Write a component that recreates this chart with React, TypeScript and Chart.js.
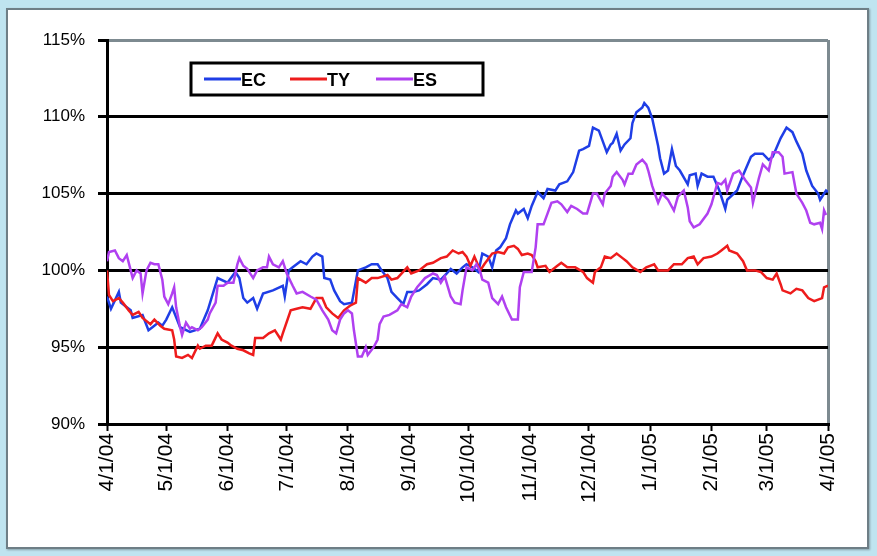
import React, { useEffect, useRef } from "react";
import { Chart, registerables } from "chart.js";

Chart.register(...registerables);

// x = calendar days since 4/1/04, y = percent
const MONTH_DAYS = [0, 30, 61, 91, 122, 153, 183, 214, 244, 275, 306, 334, 365];
const MONTH_LABELS = ["4/1/04", "5/1/04", "6/1/04", "7/1/04", "8/1/04", "9/1/04", "10/1/04", "11/1/04", "12/1/04", "1/1/05", "2/1/05", "3/1/05", "4/1/05"];
const Y_TICKS = [90, 95, 100, 105, 110, 115];

const EC: [number, number][] = [
  [0, 98.3], [2, 97.5], [6, 98.6], [7, 97.9], [12, 97.4], [13, 96.9], [18, 97.1], [21, 96.1], [23, 96.3], [26, 96.6],
  [28, 96.4], [30, 96.8], [33, 97.6], [37, 96.3], [42, 96.0], [47, 96.2], [51, 97.4], [56, 99.5], [61, 99.2], [65, 99.9],
  [67, 99.5], [69, 98.2], [71, 97.9], [74, 98.2], [76, 97.5], [79, 98.5], [84, 98.7], [89, 99.0], [90, 98.3], [92, 100.0],
  [94, 100.2], [98, 100.6], [101, 100.4], [104, 100.9], [106, 101.1], [109, 100.9], [110, 99.5], [113, 99.4], [115, 98.7], [118, 98.0],
  [120, 97.8], [124, 97.9], [127, 100.0], [131, 100.2], [134, 100.4], [137, 100.4], [139, 100.0], [142, 99.5], [144, 98.6], [147, 98.2],
  [150, 97.8], [152, 98.6], [155, 98.6], [158, 98.7], [162, 99.1], [165, 99.5], [169, 99.4], [172, 99.8], [174, 100.1], [177, 99.8],
  [180, 100.2], [182, 100.4], [185, 100.2], [188, 99.9], [190, 101.1], [193, 100.9], [195, 100.2], [197, 101.3], [199, 101.5], [202, 102.1],
  [204, 103.0], [207, 103.9], [208, 103.7], [211, 104.0], [213, 103.4], [215, 104.2], [218, 105.1], [221, 104.7], [223, 105.3], [227, 105.2],
  [229, 105.6], [233, 105.8], [236, 106.4], [239, 107.8], [241, 107.9], [244, 108.1], [246, 109.3], [249, 109.1], [251, 108.4], [253, 107.7],
  [255, 108.2], [256, 108.3], [258, 108.9], [260, 107.8], [262, 108.2], [265, 108.6], [266, 109.6], [268, 110.3], [271, 110.6], [272, 110.9],
  [274, 110.6], [276, 109.9], [279, 108.1], [280, 107.3], [282, 106.3], [284, 106.5], [286, 107.9], [288, 106.8], [290, 106.5], [294, 105.6],
  [295, 106.2], [298, 106.3], [299, 105.5], [301, 106.3], [304, 106.1], [307, 106.1], [310, 105.2], [313, 104.0], [314, 104.6], [319, 105.2],
  [322, 106.2], [326, 107.4], [328, 107.6], [332, 107.6], [335, 107.2], [337, 107.4], [341, 108.6], [344, 109.3], [347, 109.0], [349, 108.4],
  [352, 107.6], [354, 106.5], [357, 105.5], [360, 105.0], [361, 104.6], [364, 105.2], [365, 105.1],
];

const TY: [number, number][] = [
  [0, 100.0], [1, 98.4], [3, 98.0], [6, 98.2], [8, 97.9], [11, 97.4], [13, 97.1], [16, 97.3], [18, 96.9], [22, 96.5],
  [24, 96.8], [27, 96.4], [29, 96.2], [33, 96.1], [34, 95.5], [35, 94.4], [38, 94.3], [41, 94.5], [43, 94.3], [46, 95.1],
  [47, 94.9], [50, 95.1], [53, 95.1], [56, 95.9], [58, 95.5], [61, 95.3], [63, 95.1], [66, 94.9], [69, 94.8], [72, 94.6],
  [74, 94.5], [75, 95.6], [79, 95.6], [82, 95.9], [85, 96.1], [88, 95.5], [89, 95.9], [93, 97.4], [96, 97.5], [99, 97.6],
  [103, 97.5], [106, 98.2], [109, 98.2], [111, 97.6], [114, 97.2], [117, 96.9], [120, 97.4], [123, 97.7], [126, 97.9], [127, 99.5],
  [131, 99.2], [134, 99.5], [137, 99.5], [142, 99.7], [144, 99.4], [147, 99.5], [152, 100.2], [154, 99.8], [158, 100.0], [162, 100.4],
  [165, 100.5], [169, 100.8], [172, 100.9], [175, 101.3], [178, 101.1], [180, 101.2], [182, 100.9], [184, 100.3], [186, 100.9], [189, 100.0],
  [191, 100.4], [195, 101.1], [198, 101.2], [201, 101.1], [203, 101.5], [206, 101.6], [208, 101.4], [210, 101.0], [213, 101.1], [215, 101.0],
  [217, 100.6], [218, 100.2], [222, 100.3], [224, 99.9], [228, 100.3], [230, 100.5], [233, 100.2], [237, 100.2], [241, 99.9], [243, 99.5],
  [246, 99.2], [247, 99.9], [250, 100.2], [252, 100.9], [255, 100.8], [258, 101.1], [261, 100.8], [263, 100.6], [266, 100.2], [270, 99.9],
  [273, 100.2], [277, 100.4], [279, 100.0], [284, 100.0], [287, 100.4], [291, 100.4], [294, 100.8], [297, 100.9], [299, 100.4], [302, 100.8],
  [306, 100.9], [309, 101.1], [311, 101.3], [314, 101.6], [315, 101.3], [319, 101.1], [322, 100.6], [324, 100.0], [328, 100.0], [331, 99.9],
  [334, 99.5], [337, 99.4], [339, 99.8], [341, 99.1], [342, 98.7], [346, 98.5], [349, 98.8], [352, 98.7], [355, 98.2], [358, 98.0],
  [362, 98.2], [363, 98.9], [365, 99.0],
];

const ES: [number, number][] = [
  [0, 100.6], [1, 101.2], [4, 101.3], [6, 100.8], [8, 100.6], [10, 101.0], [12, 100.0], [13, 99.5], [15, 100.0], [17, 99.8],
  [18, 98.5], [20, 100.0], [22, 100.5], [24, 100.4], [26, 100.4], [28, 99.4], [29, 98.3], [31, 97.8], [33, 98.5], [34, 98.9],
  [35, 97.6], [37, 96.3], [38, 95.8], [40, 96.6], [42, 96.2], [43, 96.3], [46, 96.1], [48, 96.3], [51, 96.8], [52, 97.2],
  [55, 97.9], [56, 99.0], [59, 99.0], [61, 99.2], [64, 99.2], [66, 100.4], [67, 100.8], [69, 100.3], [71, 100.1], [74, 99.5],
  [76, 100.0], [79, 100.2], [81, 100.2], [82, 100.9], [84, 100.4], [87, 100.2], [89, 100.6], [91, 99.8], [94, 99.0], [96, 98.5],
  [99, 98.6], [103, 98.3], [106, 98.1], [109, 97.4], [112, 96.8], [114, 96.1], [116, 95.9], [118, 96.8], [120, 97.2], [122, 97.4],
  [124, 97.2], [125, 96.1], [127, 94.4], [129, 94.4], [131, 95.0], [132, 94.5], [135, 95.0], [137, 95.5], [138, 96.5], [140, 97.0],
  [143, 97.1], [147, 97.4], [149, 97.8], [152, 97.6], [154, 98.3], [157, 98.9], [161, 99.5], [165, 99.8], [167, 99.7], [169, 99.2],
  [171, 99.6], [174, 98.3], [176, 97.9], [179, 97.8], [180, 98.7], [182, 100.2], [185, 100.0], [187, 100.4], [189, 99.9], [190, 99.4],
  [193, 99.2], [195, 98.2], [198, 97.8], [200, 98.3], [202, 97.6], [205, 96.8], [208, 96.8], [209, 98.9], [211, 99.9], [215, 99.9],
  [217, 101.5], [218, 103.0], [221, 103.0], [223, 103.7], [225, 104.4], [228, 104.5], [230, 104.3], [233, 103.8], [235, 104.2], [238, 104.0],
  [241, 103.7], [243, 103.7], [246, 105.0], [248, 105.0], [251, 104.3], [252, 105.0], [255, 105.5], [256, 106.1], [258, 106.4], [261, 105.9],
  [262, 105.6], [264, 106.3], [266, 106.3], [268, 106.9], [271, 107.2], [273, 106.9], [274, 106.5], [276, 105.5], [279, 104.4], [281, 105.0],
  [284, 104.6], [287, 103.9], [289, 104.8], [292, 105.2], [294, 104.1], [295, 103.2], [297, 102.8], [300, 103.0], [304, 103.7], [306, 104.3],
  [309, 105.7], [311, 105.6], [313, 105.9], [314, 105.2], [317, 106.3], [320, 106.5], [323, 105.9], [326, 105.4], [327, 104.4], [330, 106.0],
  [332, 106.9], [335, 106.5], [337, 107.7], [340, 107.7], [342, 107.4], [343, 106.3], [347, 106.4], [349, 105.0], [352, 104.4], [354, 103.9],
  [356, 103.1], [358, 103.0], [361, 103.1], [362, 102.7], [363, 103.9], [364, 103.6],
];

const SERIES_NAMES = ["EC", "TY", "ES"];
const SERIES_COLORS = ["#1f3ee6", "#ee1c1c", "#b040f0"];

const legendPlugin = {
  id: "boxLegend",
  afterDraw(chart: any) {
    const ctx = chart.ctx;
    const area = chart.chartArea;
    const bx = area.left + 84;
    const by = area.top + 23;
    const bw = 292;
    const bh = 32;
    ctx.save();
    ctx.fillStyle = "#ffffff";
    ctx.fillRect(bx, by, bw, bh);
    ctx.lineWidth = 3;
    ctx.strokeStyle = "#000000";
    ctx.strokeRect(bx, by, bw, bh);
    ctx.font = "bold 18px 'Liberation Sans', Arial, sans-serif";
    ctx.textBaseline = "middle";
    ctx.textAlign = "left";
    const cy = by + bh / 2 + 1;
    for (let i = 0; i < SERIES_NAMES.length; i++) {
      const x0 = bx + 13 + i * 86;
      ctx.strokeStyle = SERIES_COLORS[i];
      ctx.lineWidth = 3;
      ctx.beginPath();
      ctx.moveTo(x0, cy - 1);
      ctx.lineTo(x0 + 37, cy - 1);
      ctx.stroke();
      ctx.fillStyle = "#000000";
      ctx.fillText(SERIES_NAMES[i], x0 + 37, cy + 1);
    }
    ctx.restore();
  },
};

function toPoints(arr: [number, number][]) {
  return arr.map(([x, y]) => ({ x, y }));
}

export default function App() {
  const canvasRef = useRef<HTMLCanvasElement | null>(null);

  useEffect(() => {
    const canvas = canvasRef.current;
    if (!canvas) return;
    const data = [EC, TY, ES];
    const chart = new Chart(canvas, {
      type: "line",
      data: {
        datasets: data.map((arr, i) => ({
          label: SERIES_NAMES[i],
          data: toPoints(arr),
          borderColor: SERIES_COLORS[i],
          backgroundColor: SERIES_COLORS[i],
          borderWidth: 2.5,
          pointRadius: 0,
          tension: 0,
          fill: false,
          order: 2 - i,
        })),
      },
      options: {
        responsive: false,
        animation: false,
        events: [],
        layout: { padding: { top: 40, right: 49, left: 0, bottom: 0 } },
        plugins: { legend: { display: false }, tooltip: { enabled: false }, title: { display: false } },
        scales: {
          x: {
            type: "linear",
            min: 0,
            max: 365,
            afterBuildTicks: (scale: any) => {
              scale.ticks = MONTH_DAYS.map((v) => ({ value: v }));
            },
            afterFit: (scale: any) => {
              scale.height = 132;
            },
            ticks: {
              autoSkip: false,
              maxRotation: 90,
              minRotation: 90,
              padding: 2,
              color: "#000000",
              font: { family: "'Liberation Sans', Arial, sans-serif", size: 21 },
              callback: (v: any) => {
                const idx = MONTH_DAYS.indexOf(Number(v));
                return idx >= 0 ? MONTH_LABELS[idx] : "";
              },
            },
            grid: {
              drawOnChartArea: true,
              color: (c: any) => (c.index === MONTH_DAYS.length - 1 ? "#7d8a90" : "rgba(0,0,0,0)"),
              lineWidth: 3,
              tickColor: "#000000",
              tickWidth: 2,
              tickLength: 7,
            },
            border: { color: "#000000", width: 3 },
          },
          y: {
            min: 90,
            max: 115,
            afterBuildTicks: (scale: any) => {
              scale.ticks = Y_TICKS.map((v) => ({ value: v }));
            },
            afterFit: (scale: any) => {
              scale.width = 107;
            },
            ticks: {
              padding: 13,
              color: "#000000",
              font: { family: "'Liberation Sans', Arial, sans-serif", size: 17 },
              callback: (v: any) => `${v}%`,
            },
            grid: {
              color: (c: any) => (c.tick && c.tick.value === 115 ? "#7d8a90" : "#000000"),
              lineWidth: 3,
              tickColor: "#000000",
              tickWidth: 3,
              tickLength: 9,
            },
            border: { color: "#000000", width: 3 },
          },
        },
      },
      plugins: [legendPlugin],
    });
    return () => chart.destroy();
  }, []);

  return (
    <div style={{ position: "fixed", left: 0, top: 0, width: 877, height: 556, background: "#bfe4f0", overflow: "hidden" }}>
      <div
        style={{
          position: "absolute",
          left: 6,
          top: 8,
          width: 859,
          height: 537,
          background: "#ffffff",
          border: "2px solid #6e7e86",
          boxShadow: "1px 1px 2px rgba(0,0,0,0.3)",
        }}
      />
      <canvas ref={canvasRef} width={877} height={556} style={{ position: "absolute", left: 0, top: 0, width: 877, height: 556 }} />
    </div>
  );
}
